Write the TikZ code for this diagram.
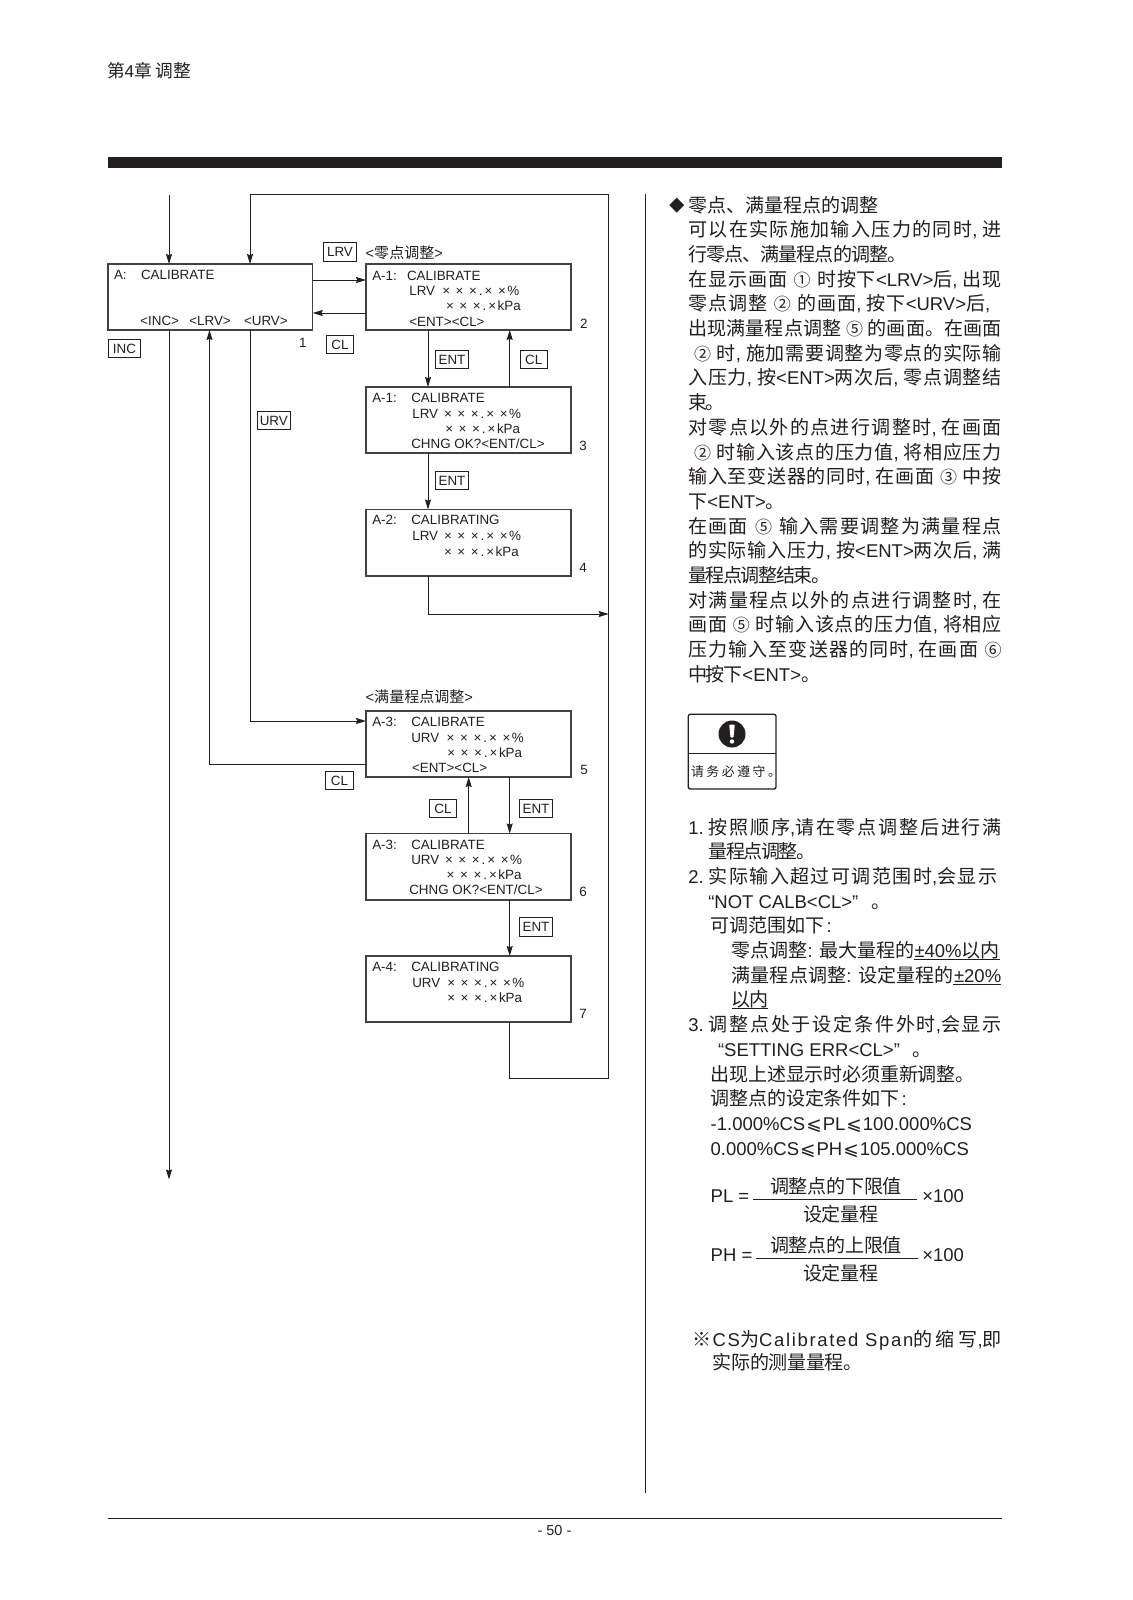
\documentclass[tikz,border=0pt]{standalone}
\usepackage{fontspec}
\usetikzlibrary{arrows.meta,calc}
\setmainfont{Liberation Sans}
\newfontfamily\latf{Liberation Sans}
\newfontfamily\latsp[LetterSpace=9]{Liberation Sans}
\newfontfamily\cjkf[Scale=1.03]{Noto Sans CJK SC}
\newfontfamily\dvf{DejaVu Sans}
\definecolor{ink}{HTML}{231F20}
% automatic switch between Latin and CJK fonts, with stretchable CJK glue
\XeTeXinterchartokenstate=1
\newXeTeXintercharclass\cjkcl
\newXeTeXintercharclass\dvcl
\newcount\chn
\def\setrange#1#2{\chn=#1\relax\loop\XeTeXcharclass\chn=\cjkcl\relax\ifnum\chn<#2\advance\chn by 1\repeat}
\setrange{"3000}{"9FFF}
\setrange{"FF00}{"FFEF}
\setrange{"2460}{"24FF}
\XeTeXcharclass"25C6=\cjkcl
\XeTeXcharclass"203B=\cjkcl
\XeTeXcharclass"2A7D=\dvcl
\XeTeXcharclass"201C=0
\XeTeXcharclass"201D=0
\XeTeXcharclass"00D7=0
\XeTeXcharclass"00B1=0
\XeTeXinterchartoks 0 \cjkcl={\cjkf}
\XeTeXinterchartoks \cjkcl 0={\latf}
\XeTeXinterchartoks 4095 \cjkcl={\cjkf}
\XeTeXinterchartoks 4095 0={\latf}
\XeTeXinterchartoks \cjkcl \cjkcl={\hskip 0pt plus 1fil minus 1.5pt\relax}
\newcommand\lessq{{\dvf ⩽}}
\newcommand\cd[1]{\hskip 4.5pt plus 2fil{\fontsize{16.5}{20}\selectfont\cjkf #1}\hskip 4.5pt plus 2fil\relax}
\newcommand\bodyf{\fontsize{18.5}{24}\selectfont}
\newcommand\boxf{\fontsize{13.4}{15}\selectfont}
\newcommand\headf{\fontsize{14.6}{17}\selectfont}
% x x x . x x %  and  x x x . x kPa
\newcommand\xpc{×\hskip5.6pt×\hskip5.6pt×\hskip2pt.\hskip2pt×\hskip5.6pt×\hskip1.5pt\%}
\newcommand\xkp{×\hskip5.6pt×\hskip5.6pt×\hskip2pt.\hskip2pt×\hskip1.5pt kPa}
\newcount\tcnt
\newcommand\TL[4]{\global\advance\tcnt by 1 \node[txt,font=\bodyf] (t\the\tcnt) at (#1,#2) {\hbox to #3pt{\latf #4}};}
\newcommand\NT[3]{\global\advance\tcnt by 1 \node[txt,font=\bodyf] (t\the\tcnt) at (#1,#2) {\latf #3};}
\newcommand\BT[3]{\global\advance\tcnt by 1 \node[txt,font=\boxf] (t\the\tcnt) at (#1,#2) {\latf #3};}
\newcommand\HT[3]{\global\advance\tcnt by 1 \node[txt,font=\headf] (t\the\tcnt) at (#1,#2) {\latf #3};}
\newcommand\KEY[5]{\node[keybox,minimum width=#4pt,minimum height=18.4pt] (#1) at (#2,#3) {\latf #5};}
\tikzset{
  txt/.style={anchor=base west,inner sep=0pt,outer sep=0pt,text=ink},
  lcd/.style={draw=ink!85,line width=1.4pt,rectangle,inner sep=0pt,outer sep=0pt,anchor=north west},
  keybox/.style={draw=ink,line width=.9pt,rectangle,inner sep=0pt,outer sep=0pt,font=\boxf,text=ink},
  conn/.style={draw=ink,line width=1pt},
  arr/.style={conn,-{Stealth[length=10pt,width=6pt,inset=1.2pt]}},
}
\begin{document}
\begin{tikzpicture}[x=1pt,y=-1pt]
\useasboundingbox (0,0) rectangle (1132,1600);
\fill[white] (0,0) rectangle (1132,1600);

% page furniture
\node[txt,font=\fontsize{17.2}{20}\selectfont] (pagehead) at (107,78) {\latf 第4章 调整};
\fill[ink] (107.5,157) rectangle (1001.5,168);
\draw[ink,line width=1.8pt] (645.5,194) -- (645.5,1493);
\draw[ink,line width=1pt] (107.5,1518.5) -- (1001.5,1518.5);
\node[txt,font=\fontsize{14.5}{16}\selectfont,anchor=base] (pageno) at (554.5,1535) {\latf - 50 -};

% display boxes
\node[lcd,minimum width=204.7pt,minimum height=66pt] (A) at (108,264) {};
\node[lcd,minimum width=205pt,minimum height=66pt] (B2) at (366,264) {};
\node[lcd,minimum width=205pt,minimum height=66pt] (B3) at (366,387) {};
\node[lcd,minimum width=205pt,minimum height=66.5pt] (B4) at (366,509.5) {};
\node[lcd,minimum width=205pt,minimum height=66pt] (B5) at (366,711) {};
\node[lcd,minimum width=205pt,minimum height=66.5pt] (B6) at (366,833.5) {};
\node[lcd,minimum width=205pt,minimum height=66pt] (B7) at (366,956) {};

% free ends and bends of the connectors
\coordinate (inTop) at (169,195);
\coordinate (incEnd) at (169,1179.5);
\coordinate (retTL) at (250,194.5);
\coordinate (retTR) at (608.7,194.5);
\coordinate (retBR) at (608.7,1078);
\coordinate (retBL) at (509.7,1078);
\coordinate (join4) at (608.7,614);
\coordinate (bend4) at (428,614);
\coordinate (urvB) at (250,721);
\coordinate (clB) at (209.5,764);

% connectors
\draw[arr] (inTop) -- (inTop |- A.north);
\draw[arr] (A.south -| incEnd) -- (incEnd);
\draw[arr] (A.east |- 0,280) -- (B2.west |- 0,280);
\draw[arr] (B2.west |- 0,313) -- (A.east |- 0,313);
\draw[arr] (B2.south -| bend4) -- (B3.north -| bend4);
\draw[arr] (B3.north -| retBL) -- (B2.south -| retBL);
\draw[arr] (B3.south -| bend4) -- (B4.north -| bend4);
\draw[arr] (B4.south -| bend4) -- (bend4) -- (join4);
\draw[arr] (A.south -| urvB) -- (urvB) -- (B5.west |- urvB);
\draw[arr] (B5.west |- clB) -- (clB) -- (A.south -| clB);
\draw[arr] (B6.north -| 468.7,0) -- (B5.south -| 468.7,0);
\draw[arr] (B5.south -| retBL) -- (B6.north -| retBL);
\draw[arr] (B6.south -| retBL) -- (B7.north -| retBL);
\draw[arr] (B7.south -| retBL) -- (retBL) -- (retBR) -- (retTR) -- (retTL) -- (retTL |- A.north);

% key labels
\KEY{kLRV}{340}{252}{33.4}{LRV}
\KEY{kCL}{340}{344.5}{27.4}{CL}
\KEY{kINC}{124.5}{348.5}{32.4}{INC}
\KEY{kENTa}{452}{359.5}{33.4}{ENT}
\KEY{kCLb}{533.8}{359.5}{27}{CL}
\KEY{kURV}{273.8}{420.5}{33.7}{URV}
\KEY{kENTb}{452}{480.5}{33.4}{ENT}
\KEY{kCLc}{339.5}{780.5}{28.4}{CL}
\KEY{kCLd}{443}{808.5}{27.4}{CL}
\KEY{kENTc}{536}{808.5}{33.4}{ENT}
\KEY{kENTd}{536}{927}{33.4}{ENT}

% box A
\BT{114}{279}{A:}
\BT{141}{279}{CALIBRATE}
\BT{140.3}{325}{<INC>}
\BT{189.3}{325}{<LRV>}
\BT{244}{325}{<URV>}
\BT{299}{347.7}{1}
% box 2
\HT{365.7}{258}{<零点调整>}
\BT{372.3}{280}{A-1:}
\BT{407}{280}{CALIBRATE}
\BT{409.3}{295}{LRV}
\BT{442.3}{295}{\xpc}
\BT{446}{310}{\xkp}
\BT{409.3}{326}{<ENT><CL>}
\BT{580}{328}{2}
% box 3
\BT{372.3}{402}{A-1:}
\BT{411.3}{402}{CALIBRATE}
\BT{412.3}{418}{LRV}
\BT{444}{418}{\xpc}
\BT{445.3}{433}{\xkp}
\BT{411.3}{448}{CHNG OK?<ENT/CL>}
\BT{579.3}{450}{3}
% box 4
\BT{372.3}{524.7}{A-2:}
\BT{411.3}{524.7}{CALIBRATING}
\BT{412.3}{540}{LRV}
\BT{444}{540}{\xpc}
\BT{444}{556}{\xkp}
\BT{579.3}{572.7}{4}
% box 5
\HT{365.7}{702.7}{<满量程点调整>}
\BT{372.3}{726}{A-3:}
\BT{411.3}{726}{CALIBRATE}
\BT{411.3}{742.3}{URV}
\BT{446.7}{742.3}{\xpc}
\BT{447.3}{757.7}{\xkp}
\BT{412}{772.3}{<ENT><CL>}
\BT{580.3}{774}{5}
% box 6
\BT{372.3}{849}{A-3:}
\BT{411.3}{849}{CALIBRATE}
\BT{411.3}{864.3}{URV}
\BT{445}{864.3}{\xpc}
\BT{446.7}{879.3}{\xkp}
\BT{409.3}{894.3}{CHNG OK?<ENT/CL>}
\BT{579.3}{896.7}{6}
% box 7
\BT{372.3}{971}{A-4:}
\BT{411.3}{971}{CALIBRATING}
\BT{412.3}{987.3}{URV}
\BT{447.3}{987.3}{\xpc}
\BT{447.3}{1002.3}{\xkp}
\BT{579.3}{1018.7}{7}

% right column, first block
\global\advance\tcnt by 1
\node[txt,font=\fontsize{15}{18}\selectfont] (t\the\tcnt) at (669,211) {\cjkf ◆};
\TL{688.3}{212}{190}{零点、满量程点的调整}
\TL{688.3}{236.7}{313.4}{可以在实际施加输入压力的同时, 进}
\TL{688.3}{261.4}{218}{行零点、满量程点的调整。}
\TL{688.3}{286.1}{313.4}{在显示画面\cd{①}时按下<LRV>后, 出现}
\TL{688.3}{310.8}{302}{零点调整\cd{②}的画面, 按下<URV>后,}
\TL{688.3}{335.5}{313.4}{出现满量程点调整\cd{⑤}的画面。在画面}
\TL{688.3}{360.2}{313.4}{\cd{②}时, 施加需要调整为零点的实际输}
\TL{688.3}{384.9}{313.4}{入压力, 按<ENT>两次后, 零点调整结}
\TL{688.3}{409.6}{30}{束。}
\TL{688.3}{434.3}{313.4}{对零点以外的点进行调整时, 在画面}
\TL{688.3}{459}{313.4}{\cd{②}时输入该点的压力值, 将相应压力}
\TL{688.3}{483.7}{313.4}{输入至变送器的同时, 在画面\cd{③}中按}
\TL{688.3}{508.4}{76}{下<ENT>。}
\TL{688.3}{533.1}{313.4}{在画面\cd{⑤}输入需要调整为满量程点}
\TL{688.3}{557.8}{313.4}{的实际输入压力, 按<ENT>两次后, 满}
\TL{688.3}{582.5}{136}{量程点调整结束。}
\TL{688.3}{607.2}{313.4}{对满量程点以外的点进行调整时, 在}
\TL{688.3}{631.9}{313.4}{画面\cd{⑤}时输入该点的压力值, 将相应}
\TL{688.3}{656.6}{313.4}{压力输入至变送器的同时, 在画面\hskip 4.5pt plus 2fil{\fontsize{16.5}{20}\selectfont\cjkf ⑥}}
\TL{688.3}{681.3}{120}{中按下<ENT>。}

% caution box
\node[draw=ink,line width=1.3pt,rounded corners=2pt,rectangle,inner sep=0pt,outer sep=0pt,anchor=north west,minimum width=87.7pt,minimum height=74.7pt] (warn) at (688.3,714.3) {};
\draw[ink,line width=1.1pt] (warn.west |- 0,753.3) -- (warn.east |- 0,753.3);
\node[circle,fill=ink,inner sep=0pt,outer sep=0pt,minimum size=27pt] (warnc) at (732,734) {};
\fill[white,rounded corners=.8pt] (729.2,724.5) -- (734.8,724.5) -- (733.5,737.5) -- (730.5,737.5) -- cycle;
\fill[white] (732,741.5) circle (2.2pt);
\node[txt,font=\fontsize{12.5}{15}\selectfont] (warnt) at (691,776) {\hbox to 90pt{\latf 请务必遵守。}};

% right column, numbered notes
\NT{688.3}{834}{1.}
\TL{708.7}{834}{293}{按照顺序,请在零点调整后进行满}
\TL{708.7}{858.7}{103}{量程点调整。}
\NT{688.3}{883.4}{2.}
\TL{708.7}{883.4}{288.6}{实际输入超过可调范围时,会显示}
\NT{708.3}{908.1}{“NOT CALB<CL>”\hskip 13pt\cjkf 。}
\TL{710.7}{932.8}{121}{可调范围如下\hskip 2pt:}
\TL{731.7}{957.5}{268}{零点调整: 最大量程的±40\%以内}
\draw[ink,line width=.9pt] (914,959.5) -- (999.5,959.5);
\TL{731.7}{982.2}{269.5}{满量程点调整: 设定量程的±20\%}
\draw[ink,line width=.9pt] (952.7,984.2) -- (1001,984.2);
\TL{731.7}{1006.9}{37}{以内}
\draw[ink,line width=.9pt] (731.7,1008.9) -- (768.3,1008.9);
\NT{688.3}{1031.6}{3.}
\TL{708.7}{1031.6}{293}{调整点处于设定条件外时,会显示}
\NT{718}{1056.3}{“SETTING ERR<CL>”\hskip 13pt\cjkf 。}
\TL{710.7}{1081}{264}{出现上述显示时必须重新调整。}
\TL{710.7}{1105.7}{196}{调整点的设定条件如下\hskip 2pt:}
\NT{710.7}{1130.4}{-1.000\%CS\hskip 1pt\lessq\hskip 1pt PL\hskip 1pt\lessq\hskip 1pt 100.000\%CS}
\NT{710.7}{1155.1}{0.000\%CS\hskip 1pt\lessq\hskip 1pt PH\hskip 1pt\lessq\hskip 1pt 105.000\%CS}

% formulas
\NT{710.7}{1202.3}{PL =}
\TL{770}{1193}{132}{调整点的下限值}
\draw[ink,line width=1pt] (752.7,1199) -- (916.7,1199);
\TL{803.3}{1221}{75}{设定量程}
\NT{922.3}{1202.3}{×100}
\NT{710.7}{1261.7}{PH =}
\TL{770}{1252.7}{132}{调整点的上限值}
\draw[ink,line width=1pt] (755.7,1258.3) -- (917.7,1258.3);
\TL{803.3}{1280}{75}{设定量程}
\NT{922.3}{1261.7}{×100}

% footnote
\NT{692.7}{1346}{※}
\TL{712.7}{1346}{289}{{\let\latf\latsp CS为Calibrated Span的缩写,即}}
\TL{712.7}{1369}{150}{实际的测量量程。}
\end{tikzpicture}
\end{document}
